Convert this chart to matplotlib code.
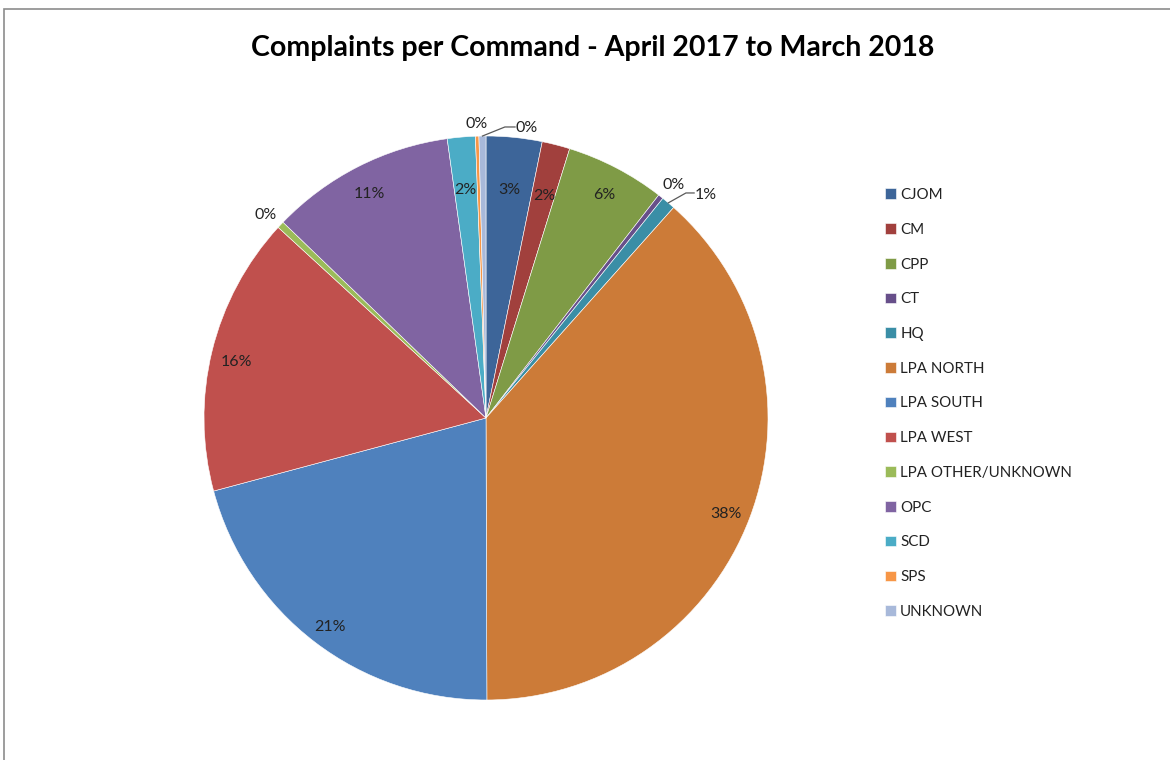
import numpy as np
import matplotlib
matplotlib.use("Agg")
import matplotlib.pyplot as plt
from matplotlib.patches import Rectangle

# Complaint share per command (percent of total)
commands = ["CJOM", "CM", "CPP", "CT", "HQ", "LPA NORTH", "LPA SOUTH", "LPA WEST",
            "LPA OTHER/UNKNOWN", "OPC", "SCD", "SPS", "UNKNOWN"]
shares = [3.2, 1.6, 5.7, 0.3, 0.8, 38.4, 20.9, 16.0, 0.4, 10.6, 1.6, 0.2, 0.4]
colors = ["#3D6599", "#A1403D", "#7F9B46", "#674F8A", "#3A8EA6", "#CC7B38",
          "#4F81BD", "#C0504D", "#9BBB59", "#8064A2", "#4BACC6", "#F79646", "#A8B9DA"]

plt.rcParams["font.family"] = ["Lato", "DejaVu Sans"]

W, H = 1170, 760
fig = plt.figure(figsize=(W / 100, H / 100), dpi=100)
fig.patch.set_facecolor("white")

# chart-area frame
fig.add_artist(Rectangle((4 / W, -0.1), 1.2, 1 - 9 / H + 0.1, transform=fig.transFigure,
                         fill=False, edgecolor="#8c8c8c", linewidth=1.2))

cx, cy, r = 486, 418, 282
ax = fig.add_axes([(cx - r) / W, (H - cy - r) / H, 2 * r / W, 2 * r / H])
wedges, _ = ax.pie(shares, colors=colors, startangle=90, counterclock=False,
                   radius=1.0, wedgeprops=dict(edgecolor="white", linewidth=0.4))
ax.set_xlim(-1, 1)
ax.set_ylim(-1, 1)
ax.set_aspect("equal")
ax.axis("off")

total = sum(shares)
label_r = {"CJOM": 0.83, "CM": 0.83, "SCD": 0.83,
           "CT": 1.075, "SPS": 1.06, "LPA OTHER/UNKNOWN": 1.075}
fs = 11.5
for name, val, w in zip(commands, shares, wedges):
    txt = f"{round(val / total * 100):.0f}%"
    ang = np.deg2rad((w.theta1 + w.theta2) / 2)
    ex, ey = np.cos(ang), np.sin(ang)
    if name == "UNKNOWN":
        ax.plot([ex, 0.067, 0.103], [ey, 1.032, 1.032], color="#595959", lw=0.9, clip_on=False)
        ax.text(0.106, 1.034, txt, ha="left", va="center_baseline", fontsize=fs, color="#222222")
    elif name == "HQ":
        ax.plot([ex, 0.709, 0.738], [ey, 0.798, 0.798], color="#595959", lw=0.9, clip_on=False)
        ax.text(0.740, 0.795, txt, ha="left", va="center_baseline", fontsize=fs, color="#222222")
    else:
        rr = label_r.get(name, 0.91)
        ax.text(rr * ex, rr * ey - 0.012, txt, ha="center", va="center_baseline",
                fontsize=fs, color="#222222")

fig.text(593 / W, 1 - 48 / H, "Complaints per Command - April 2017 to March 2018",
         ha="center", va="center", fontsize=20.5, fontweight="bold", color="#000000")

leg = fig.legend(wedges, commands, loc="upper left", bbox_to_anchor=(879 / W, 1 - 182 / H),
                 frameon=False, fontsize=10.9, handlelength=0.7, handleheight=0.7,
                 handletextpad=0.3, labelspacing=1.37, borderaxespad=0)
for t in leg.get_texts():
    t.set_color("#222222")

fig.savefig("out.png", dpi=100)
